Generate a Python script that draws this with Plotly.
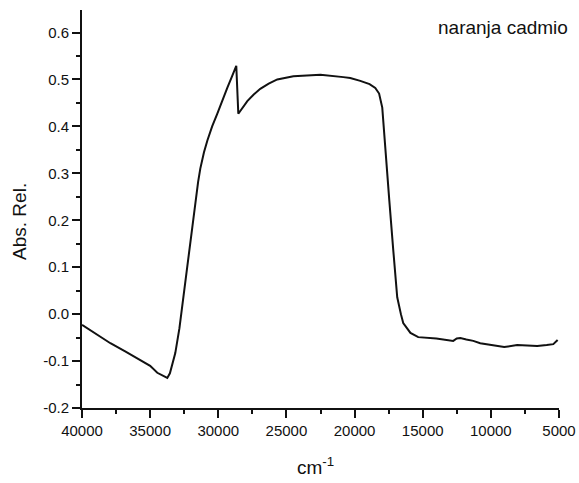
import plotly.graph_objects as go

# Relative absorbance spectrum of the cadmium orange sample
wavenumber = [
    40000, 39000, 37916, 36800, 35716, 35000, 34475, 34000, 33742, 33550,
    33350, 33155, 32850, 32570, 32280, 31907, 31680, 31480, 31320, 31050,
    30800, 30450, 30070, 29700, 29340, 29000, 28680, 28530, 28200, 27870,
    27400, 26920, 26300, 25670, 24490, 22500, 20820, 20316, 19582, 18900,
    18481, 18200, 17968, 17747, 17450, 17160, 16870, 16600, 16430, 15900,
    15330, 14000, 12760, 12500, 12240, 11800, 11290, 10780, 9900, 9020,
    8070, 7300, 6600, 5900, 5420, 5100,
]
absorbance = [
    -0.023, -0.042, -0.062, -0.080, -0.098, -0.110, -0.125, -0.133, -0.136, -0.126,
    -0.106, -0.083, -0.030, 0.030, 0.100, 0.185, 0.242, 0.282, 0.310, 0.345,
    0.370, 0.400, 0.427, 0.456, 0.482, 0.506, 0.529, 0.427, 0.441, 0.454,
    0.468, 0.480, 0.491, 0.500, 0.507, 0.510, 0.505, 0.503, 0.497, 0.490,
    0.482, 0.470, 0.440, 0.348, 0.242, 0.136, 0.036, 0.000, -0.019, -0.040,
    -0.049, -0.052, -0.057, -0.052, -0.051, -0.054, -0.057, -0.062, -0.066, -0.070,
    -0.066, -0.067, -0.068, -0.066, -0.064, -0.055,
]

x_ticks = [40000, 35000, 30000, 25000, 20000, 15000, 10000, 5000]
y_ticks = [-0.2, -0.1, 0.0, 0.1, 0.2, 0.3, 0.4, 0.5, 0.6]
sample_name = "naranja cadmio"
x_title = "cm<sup>-1</sup>"
y_title = "Abs. Rel."

font_family = "Liberation Sans, Arial, sans-serif"
ink = "#111111"

fig = go.Figure()
fig.add_trace(go.Scatter(
    x=wavenumber,
    y=absorbance,
    mode="lines",
    line=dict(color=ink, width=2),
    showlegend=False,
    hoverinfo="skip",
))

axis_style = dict(
    showgrid=False,
    zeroline=False,
    showline=True,
    linecolor=ink,
    linewidth=1.8,
    ticks="outside",
    ticklen=8,
    tickwidth=1.8,
    tickcolor=ink,
    tickfont=dict(size=15),
    automargin=False,
)

fig.update_layout(
    width=579,
    height=483,
    margin=dict(l=82, r=20, t=10, b=75),
    paper_bgcolor="white",
    plot_bgcolor="white",
    font=dict(family=font_family, color=ink, size=15),
    xaxis=dict(
        range=[40000, 5000],
        tickvals=x_ticks,
        ticktext=[str(v) for v in x_ticks],
        minor=dict(dtick=2500, tick0=5000, ticks="outside", ticklen=4,
                   tickwidth=1.8, tickcolor=ink, showgrid=False),
        **axis_style,
    ),
    yaxis=dict(
        range=[-0.2, 0.648],
        tickvals=y_ticks,
        ticktext=[f"{v:.1f}" for v in y_ticks],
        minor=dict(dtick=0.05, tick0=0, ticks="outside", ticklen=4,
                   tickwidth=1.8, tickcolor=ink, showgrid=False),
        **axis_style,
    ),
    annotations=[
        dict(
            text=sample_name,
            xref="paper", yref="paper",
            x=1.023, y=0.955,
            xanchor="right", yanchor="middle",
            showarrow=False,
            font=dict(size=19, color=ink, family=font_family),
        ),
        dict(
            text=x_title,
            xref="paper", yref="paper",
            x=0.49, y=-0.145,
            xanchor="center", yanchor="middle",
            showarrow=False,
            font=dict(size=19, color=ink, family=font_family),
        ),
        dict(
            text=y_title,
            xref="paper", yref="paper",
            x=-0.13, y=0.47,
            xanchor="center", yanchor="middle",
            textangle=-90,
            showarrow=False,
            font=dict(size=19, color=ink, family=font_family),
        ),
    ],
)

fig.write_html("out.html")
